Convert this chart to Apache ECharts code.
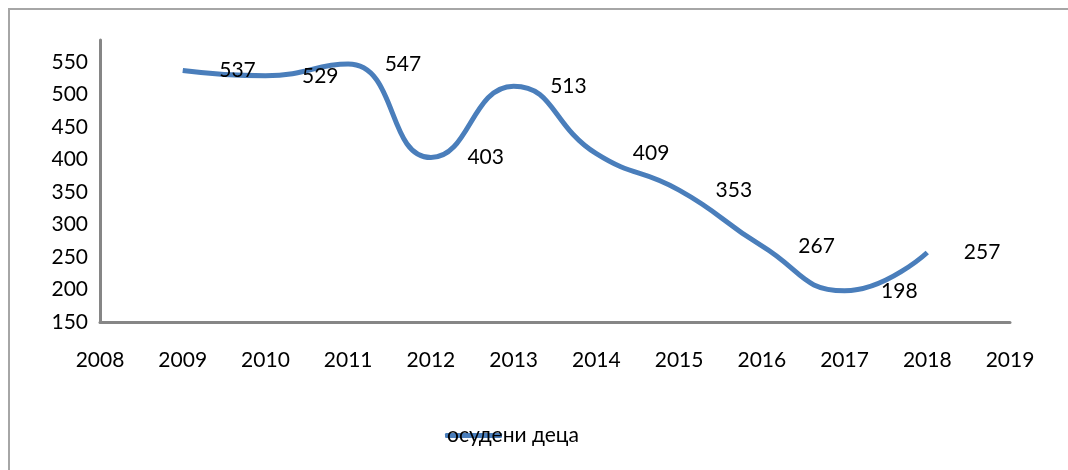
<!DOCTYPE html>
<html>
<head>
<meta charset="utf-8">
<script src="https://cdn.jsdelivr.net/npm/echarts@6/dist/echarts.min.js"></script>
<style>html,body{margin:0;padding:0;background:#fff}#c{width:1068px;height:470px}</style>
</head>
<body>
<div id="c"></div>
<script>
var years = [2009, 2010, 2011, 2012, 2013, 2014, 2015, 2016, 2017, 2018];
var values = [537, 529, 547, 403, 513, 409, 353, 267, 198, 257];
var seriesName = 'осудени деца';
var xMin = 2008, xMax = 2019;
var yMin = 150, yMax = 584, yStep = 50;

var points = years.map(function(y, i){ return [y, values[i]]; });
var chart = echarts.init(document.getElementById('c'));
var font = 'Lato, "Open Sans", sans-serif';
chart.setOption({
  animation: false,
  backgroundColor: '#fff',
  textStyle: {fontFamily: font},
  graphic: [{
    type: 'rect', silent: true,
    shape: {x: 9, y: 9, width: 1200, height: 600},
    style: {fill: 'none', stroke: '#a6a6a6', lineWidth: 2}
  }],
  grid: {left: 100, right: 58, top: 40, bottom: 148, containLabel: false},
  xAxis: {
    type: 'value', min: xMin, max: xMax, interval: 1,
    splitLine: {show: false},
    axisTick: {show: false},
    axisLine: {show: true, lineStyle: {color: '#868686', width: 3}},
    axisLabel: {color: '#000', fontSize: 21, fontFamily: font, margin: 28, formatter: function(v){return String(v);}}
  },
  yAxis: {
    type: 'value', min: yMin, max: yMax, interval: yStep,
    splitLine: {show: false},
    axisTick: {show: false},
    axisLine: {show: true, lineStyle: {color: '#868686', width: 3}},
    axisLabel: {color: '#000', fontSize: 21, fontFamily: font, margin: 12, showMaxLabel: false,
      formatter: function(v){ return (v % 50 === 0) ? String(v) : ''; }}
  },
  legend: {
    left: 440, top: 420,
    itemWidth: 57, itemHeight: 5,
    icon: 'roundRect',
    data: [{name: seriesName, itemStyle: {color: '#4a7ebb'}}],
    textStyle: {color: '#000', fontSize: 21, fontFamily: font, padding: [0, 0, 0, -60]}
  },
  series: [{
    name: seriesName,
    type: 'line',
    smooth: true,
    symbol: 'none',
    showSymbol: false,
    data: points,
    lineStyle: {color: '#4a7ebb', width: 5},
    itemStyle: {color: '#4a7ebb'}
  }, {
    name: 'labels',
    type: 'scatter',
    symbolSize: 1,
    data: points,
    itemStyle: {color: '#ffffff', opacity: 0},
    label: {
      show: true, position: 'right', distance: 36, opacity: 1,
      color: '#000000', textBorderWidth: 0, textBorderColor: 'transparent',
      fontSize: 21, fontFamily: font,
      formatter: function(p){ return String(p.value[1]); }
    },
    z: 5
  }]
});
</script>
</body>
</html>
